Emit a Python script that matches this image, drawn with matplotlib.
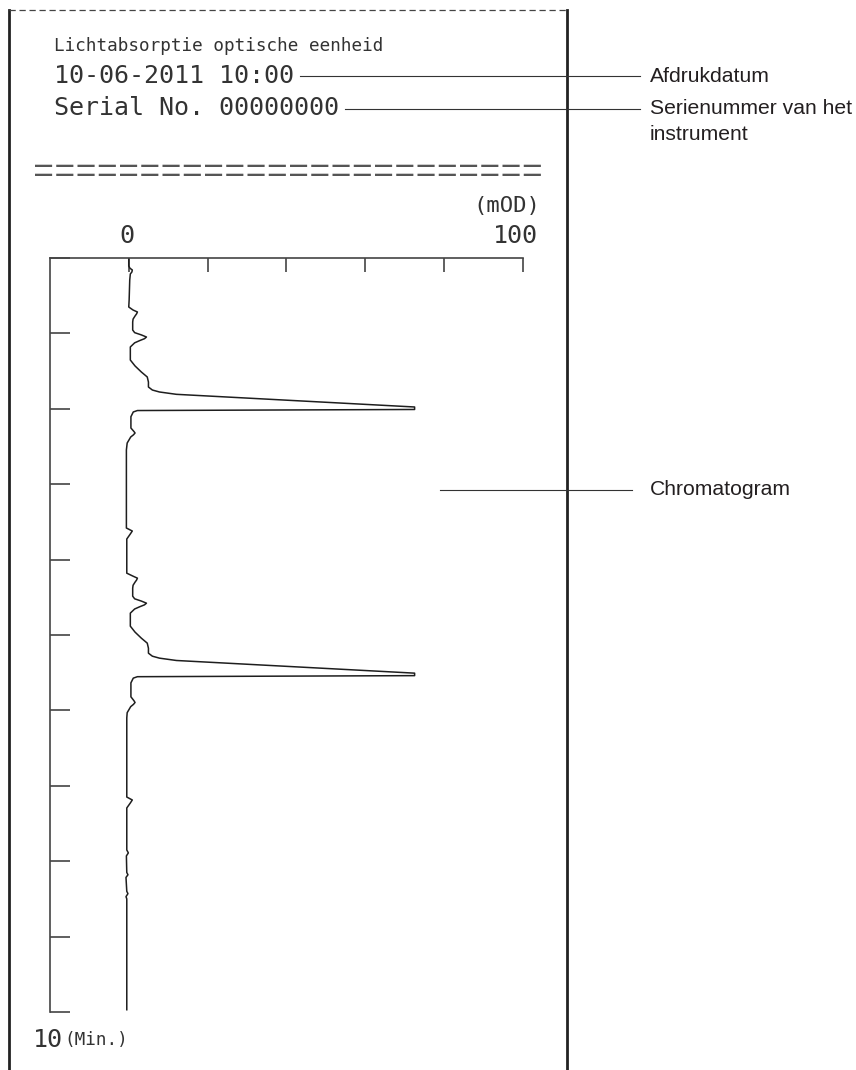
import numpy as np
import matplotlib
matplotlib.use("Agg")
import matplotlib.pyplot as plt
from matplotlib.lines import Line2D

# chromatogram trace: time (min) and absorbance (mOD)
time_min = [0.000, 0.106, 0.135, 0.159, 0.185, 0.212, 0.292, 0.557, 0.650, 0.690,
            0.716, 0.740, 0.769, 0.810, 0.849, 0.955, 0.990, 1.020, 1.048, 1.070,
            1.095, 1.125, 1.180, 1.353, 1.432, 1.512, 1.578, 1.645, 1.711, 1.751,
            1.777, 1.808, 1.976, 2.009, 2.023, 2.042, 2.105, 2.255, 2.300, 2.321,
            2.345, 2.374, 2.454, 2.546, 3.581, 3.621, 3.660, 3.727, 4.180, 4.220,
            4.246, 4.270, 4.299, 4.340, 4.379, 4.485, 4.520, 4.550, 4.578, 4.600,
            4.625, 4.655, 4.710, 4.883, 4.962, 5.042, 5.108, 5.175, 5.241, 5.281,
            5.307, 5.338, 5.506, 5.539, 5.553, 5.572, 5.635, 5.820, 5.870, 5.895,
            5.920, 5.950, 6.030, 6.100, 7.149, 7.188, 7.228, 7.294, 7.851, 7.890,
            7.930, 8.150, 8.180, 8.215, 8.400, 8.430, 8.470, 8.500, 9.970]
absorb_mod = [0.0, 0.0, 0.3, 0.9, 0.8, 0.4, 0.25, 0.1, 0.0, 1.1,
              2.2, 2.0, 1.6, 1.1, 1.0, 1.0, 1.5, 3.2, 4.5, 4.0,
              2.8, 1.5, 0.4, 0.4, 1.6, 3.2, 4.7, 5.0, 5.0, 6.0,
              7.8, 12.1, 72.6, 72.6, 2.2, 1.15, 0.55, 0.55, 1.3, 1.6,
              1.2, 0.5, -0.4, -0.6, -0.6, 0.9, 0.4, -0.5, -0.5, 1.1,
              2.2, 2.0, 1.6, 1.1, 1.0, 1.0, 1.5, 3.2, 4.5, 4.0,
              2.8, 1.5, 0.4, 0.4, 1.6, 3.2, 4.7, 5.0, 5.0, 6.0,
              7.8, 12.1, 72.6, 72.6, 2.2, 1.15, 0.55, 0.55, 1.3, 1.6,
              1.2, 0.5, -0.4, -0.5, -0.5, 0.9, 0.4, -0.5, -0.5, -0.1,
              -0.6, -0.5, -0.2, -0.7, -0.5, -0.2, -0.7, -0.5, -0.5]

min_ticks = list(range(0, 11))
mod_ticks = [0, 20, 40, 60, 80, 100]

header = "Lichtabsorptie optische eenheid"
date_txt = "10-06-2011 10:00"
serial_txt = "Serial No. 00000000"
rule_txt = "=" * 24

W, H = 856, 1070
fig = plt.figure(figsize=(W / 100, H / 100), dpi=100)

def fx(x):
    return x / W

def fy(y):
    return 1 - y / H

ink = "#333333"
mono = "DejaVu Sans Mono"

# plot area (in pixels: x 50..522, y 258..1012)
ax = fig.add_axes([fx(50), fy(1012), (522.5 - 50) / W, (1012 - 258) / H])
ax.plot(absorb_mod, time_min, color="#1e1e1e", lw=1.1)
ax.set_xlim(-20, 100)
ax.set_ylim(10, 0)
for s in ["right", "bottom"]:
    ax.spines[s].set_visible(False)
for s in ["left", "top"]:
    ax.spines[s].set_color("#444444")
    ax.spines[s].set_linewidth(1.2)
ax.xaxis.tick_top()
ax.set_xticks(mod_ticks)
ax.set_yticks(min_ticks)
ax.tick_params(axis="x", direction="in", length=10, width=1.2, colors="#444444", labeltop=False)
ax.tick_params(axis="y", direction="in", length=14.5, width=1.2, colors="#444444", labelleft=False)

# printout texts
fig.text(fx(54), fy(46), header, family=mono, fontsize=12.7, color=ink, va="center")
t_date = fig.text(fx(54), fy(76), date_txt, family=mono, fontsize=18, color=ink, va="center")
t_ser = fig.text(fx(54), fy(108), serial_txt, family=mono, fontsize=18, color=ink, va="center")
fig.text(fx(33), fy(172), rule_txt, family="Liberation Mono", fontsize=25.5, color="#555555", va="center")
fig.text(fx(540), fy(206), "(mOD)", family=mono, fontsize=16, color=ink, va="center", ha="right")
fig.text(fx(127), fy(236), "0", family=mono, fontsize=18, color=ink, va="center", ha="center")
fig.text(fx(538), fy(236), "100", family=mono, fontsize=18, color=ink, va="center", ha="right")
t10 = fig.text(fx(33), fy(1040), "10", family=mono, fontsize=18, color=ink, va="center")

# paper edges
edge = dict(color="#222222", lw=2.0)
fig.add_artist(Line2D([fx(9), fx(9)], [fy(10), 0], **edge))
fig.add_artist(Line2D([fx(567), fx(567)], [fy(10), 0], **edge))
fig.add_artist(Line2D([fx(9), fx(567)], [fy(10), fy(10)], color="#444444", lw=0.9,
                      linestyle=(0, (5, 3))))

fig.canvas.draw()
fig.text((t10.get_window_extent().x1 + 1) / W, fy(1040), "(Min.)", family=mono,
         fontsize=12.7, color=ink, va="center")

# callouts
lead = dict(color="#333333", lw=0.8)
sans = "Liberation Sans"
x_d = t_date.get_window_extent().x1 + 6
x_s = t_ser.get_window_extent().x1 + 6
fig.add_artist(Line2D([x_d / W, fx(640)], [fy(76), fy(76)], **lead))
fig.add_artist(Line2D([x_s / W, fx(640)], [fy(109), fy(109)], **lead))
fig.add_artist(Line2D([fx(440), fx(632)], [fy(490), fy(490)], **lead))
fig.text(fx(650), fy(76), "Afdrukdatum", family=sans, fontsize=15.2, color="#231f20", va="center")
fig.text(fx(650), fy(109), "Serienummer van het", family=sans, fontsize=15.2, color="#231f20", va="center")
fig.text(fx(650), fy(134), "instrument", family=sans, fontsize=15.2, color="#231f20", va="center")
fig.text(fx(650), fy(490), "Chromatogram", family=sans, fontsize=15.2, color="#231f20", va="center")

fig.savefig("out.png", dpi=100)
